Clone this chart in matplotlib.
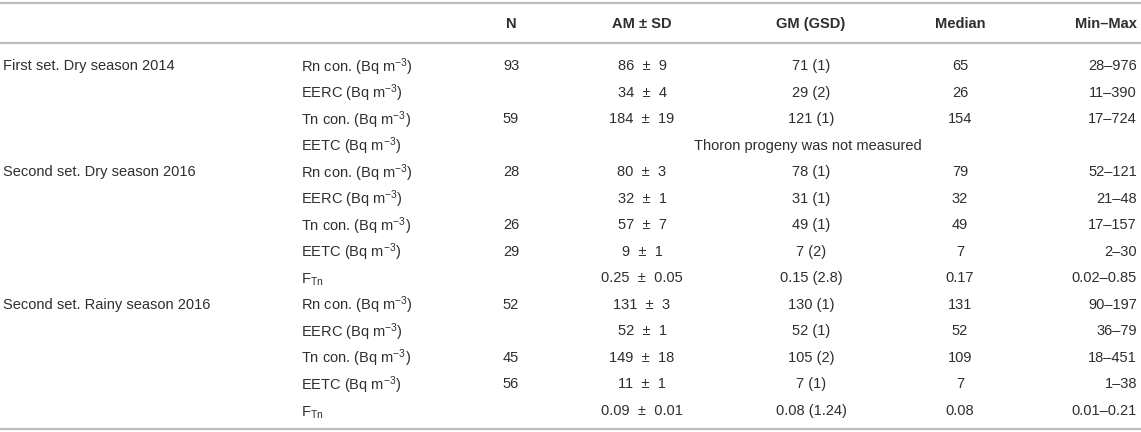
import matplotlib
matplotlib.use("Agg")
import matplotlib.pyplot as plt

plt.rcParams['font.family'] = ['Liberation Sans', 'DejaVu Sans']
plt.rcParams['mathtext.fontset'] = 'custom'
plt.rcParams['mathtext.rm'] = 'Liberation Sans'
plt.rcParams['mathtext.it'] = 'Liberation Sans'

# ---- data ----
headers = ["N", "AM \u00b1 SD", "GM (GSD)", "Median", "Min\u2013Max"]

groups = ["First set. Dry season 2014", "", "", "",
          "Second set. Dry season 2016", "", "", "", "",
          "Second set. Rainy season 2016", "", "", "", ""]

BQ = r" (Bq m$^{\mathregular{-3}}$)"
FTN = r"F$_{\mathregular{Tn}}$"
params = ["Rn con." + BQ, "EERC" + BQ, "Tn con." + BQ, "EETC" + BQ,
          "Rn con." + BQ, "EERC" + BQ, "Tn con." + BQ, "EETC" + BQ, FTN,
          "Rn con." + BQ, "EERC" + BQ, "Tn con." + BQ, "EETC" + BQ, FTN]

n_vals = ["93", "", "59", "",
          "28", "", "26", "29", "",
          "52", "", "45", "56", ""]

PM = "  \u00b1  "
am_sd = ["86" + PM + "9", "34" + PM + "4", "184" + PM + "19", None,
         "80" + PM + "3", "32" + PM + "1", "57" + PM + "7", "9" + PM + "1", "0.25" + PM + "0.05",
         "131" + PM + "3", "52" + PM + "1", "149" + PM + "18", "11" + PM + "1", "0.09" + PM + "0.01"]

gm_gsd = ["71 (1)", "29 (2)", "121 (1)", None,
          "78 (1)", "31 (1)", "49 (1)", "7 (2)", "0.15 (2.8)",
          "130 (1)", "52 (1)", "105 (2)", "7 (1)", "0.08 (1.24)"]

median = ["65", "26", "154", None,
          "79", "32", "49", "7", "0.17",
          "131", "52", "109", "7", "0.08"]

min_max = ["28\u2013976", "11\u2013390", "17\u2013724", None,
           "52\u2013121", "21\u201348", "17\u2013157", "2\u201330", "0.02\u20130.85",
           "90\u2013197", "36\u201379", "18\u2013451", "1\u201338", "0.01\u20130.21"]

note = "Thoron progeny was not measured"

# ---- layout ----
W, H = 1141, 432
fig = plt.figure(figsize=(W / 100, H / 100), dpi=100)
ax = fig.add_axes([0, 0, 1, 1])
ax.set_xlim(0, W)
ax.set_ylim(H, 0)
ax.axis("off")

txt = "#2e2e2e"
line_c = "#bdbdbd"
fs = 10.5

x_group = 3
x_param = 301
x_n = 511
x_am = 642
x_gm = 811
x_med = 960
x_mm = 1137

off = 5.2  # baseline offset from row centre
math_fix = 1.5  # mathtext labels sit slightly high
y_head = 22.5
y0 = 65
dy = 26.5

for y in (2.5, 42.5, 428.5):
    ax.plot([0, W], [y, y], color=line_c, lw=1.6, solid_capstyle="butt")

hx = [(x_n, "center"), (x_am, "center"), (x_gm, "center"), (x_med, "center"), (x_mm, "right")]
for (x, ha), h in zip(hx, headers):
    ax.text(x, y_head + off, h, ha=ha, va="baseline", fontsize=fs, fontweight="bold", color=txt)

def put(x, y, s, ha, extra=0.0):
    ax.text(x, y + off + extra, s, ha=ha, va="baseline", fontsize=fs, color=txt)

for i in range(len(params)):
    y = y0 + i * dy
    if groups[i]:
        put(x_group, y, groups[i], "left")
    put(x_param, y, params[i], "left", math_fix)
    if n_vals[i]:
        put(x_n, y, n_vals[i], "center")
    if am_sd[i] is None:
        put(808, y, note, "center")
        continue
    put(x_am, y, am_sd[i], "center")
    put(x_gm, y, gm_gsd[i], "center")
    put(x_med, y, median[i], "center")
    put(x_mm, y, min_max[i], "right")

fig.savefig("out.png", dpi=100)
